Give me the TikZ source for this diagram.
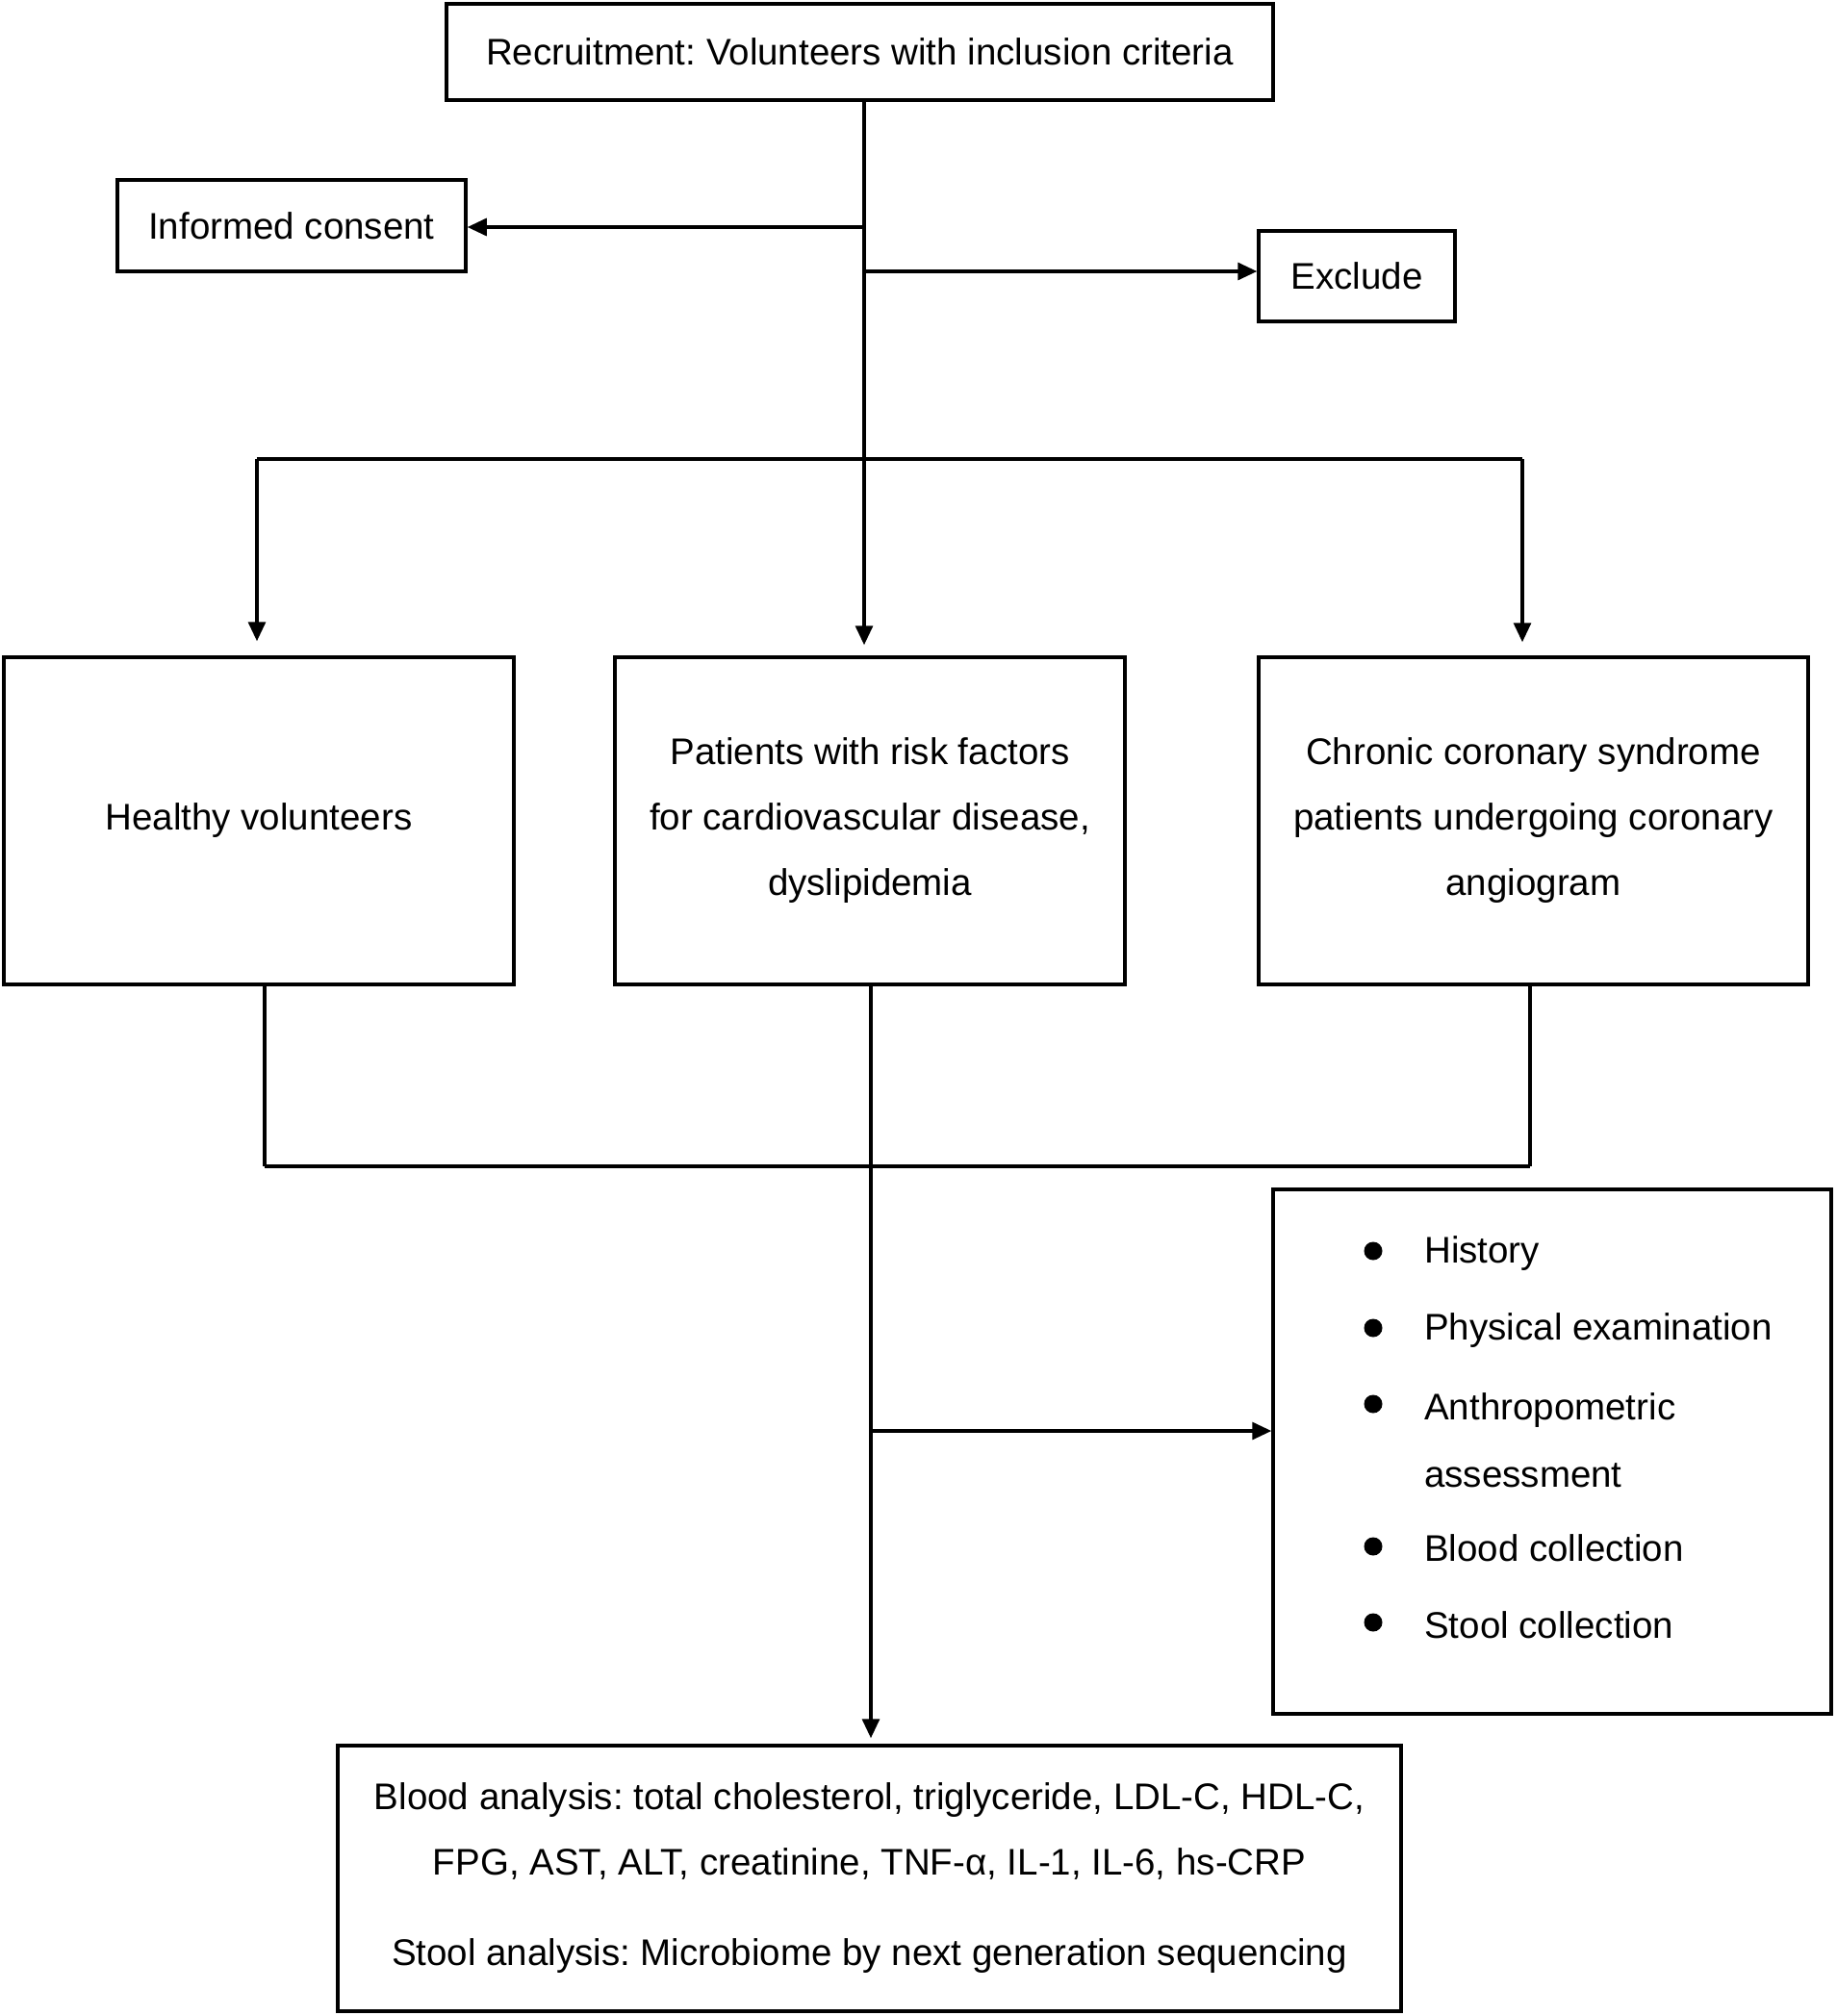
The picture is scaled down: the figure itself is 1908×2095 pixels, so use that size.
\documentclass[tikz,border=0pt]{standalone}
\usepackage{fontspec}
\setmainfont{Liberation Sans}
\usetikzlibrary{arrows.meta}
\frenchspacing
\begin{document}
\begin{tikzpicture}[x=1pt,y=-1pt,
  box/.style={draw, line width=3.5pt, inner sep=0pt, align=center, font=\fontsize{38.5}{68}\selectfont},
  conn/.style={line width=3.2pt},
  arr/.style={conn, -{Triangle[length=20pt,width=18pt]}},
  txt/.style={inner sep=0pt, anchor=west, align=left, font=\fontsize{38.5}{70}\selectfont},
  dot/.style={circle, fill, inner sep=0pt, minimum size=19pt}]
\useasboundingbox (0,0) rectangle (1908,2095);
% boxes
\node[box, minimum width=859pt, minimum height=100pt] (rec) at (893.5,54) {Recruitment: Volunteers with inclusion criteria};
\node[box, minimum width=362pt, minimum height=95pt] (cons) at (303,234.5) {Informed consent};
\node[box, minimum width=204pt, minimum height=94pt] (excl) at (1410,287) {Exclude};
\node[box, minimum width=530pt, minimum height=340pt] (hv) at (269,853) {Healthy volunteers};
\node[box, minimum width=530pt, minimum height=340pt] (rf) at (904,853) {Patients with risk factors\\for cardiovascular disease,\\dyslipidemia};
\node[box, minimum width=571pt, minimum height=340pt] (ccs) at (1593.5,853) {Chronic coronary syndrome\\patients undergoing coronary\\angiogram};
\node[box, minimum width=580pt, minimum height=545pt] (list) at (1613,1508.5) {};
\node[box, minimum width=1105pt, minimum height=276pt] (blood) at (903.5,1952) {Blood analysis: total cholesterol, triglyceride, LDL-C, HDL-C,\\FPG, AST, ALT, creatinine, TNF-α, IL-1, IL-6, hs-CRP\\[26pt]Stool analysis: Microbiome by next generation sequencing};
% list items
\node[dot] (d1) at (1427,1300) {};
\node[dot] (d2) at (1427,1380) {};
\node[dot] (d3) at (1427,1459) {};
\node[dot] (d4) at (1427,1607) {};
\node[dot] (d5) at (1427,1686) {};
\node[txt] (t1) at (1480,1303) {History};
\node[txt] (t2) at (1480,1383) {Physical examination};
\node[txt] (t3) at (1480,1497) {Anthropometric\\assessment};
\node[txt] (t4) at (1480,1609) {Blood collection};
\node[txt] (t5) at (1480,1689) {Stool collection};
% junction coordinates
\coordinate (top) at (898,104);
\coordinate (c1) at (898,236);
\coordinate (c2) at (898,282);
\coordinate (busL) at (267,477);
\coordinate (busM) at (898,477);
\coordinate (busR) at (1582,477);
\coordinate (lowL) at (275,1212);
\coordinate (lowM) at (905,1212);
\coordinate (lowR) at (1590,1212);
\coordinate (c3) at (905,1487);
% connectors
\draw[conn] (top) -- (busM);
\draw[arr] (c1) -- (c1 -| cons.east);
\draw[arr] (c2) -- (c2 -| excl.west);
\draw[conn] (busL) -- (busR);
\draw[arr] (busL) -- ([yshift=15pt]hv.north -| busL);
\draw[arr] (busM) -- ([yshift=11pt]rf.north -| busM);
\draw[arr] (busR) -- ([yshift=14pt]ccs.north -| busR);
\draw[conn] (hv.south -| lowL) -- (lowL);
\draw[conn] (rf.south -| lowM) -- (lowM);
\draw[conn] (ccs.south -| lowR) -- (lowR);
\draw[conn] (lowL) -- (lowR);
\draw[arr] (lowM) -- ([yshift=6pt]blood.north -| lowM);
\draw[arr] (c3) -- (c3 -| list.west);
\end{tikzpicture}
\end{document}
